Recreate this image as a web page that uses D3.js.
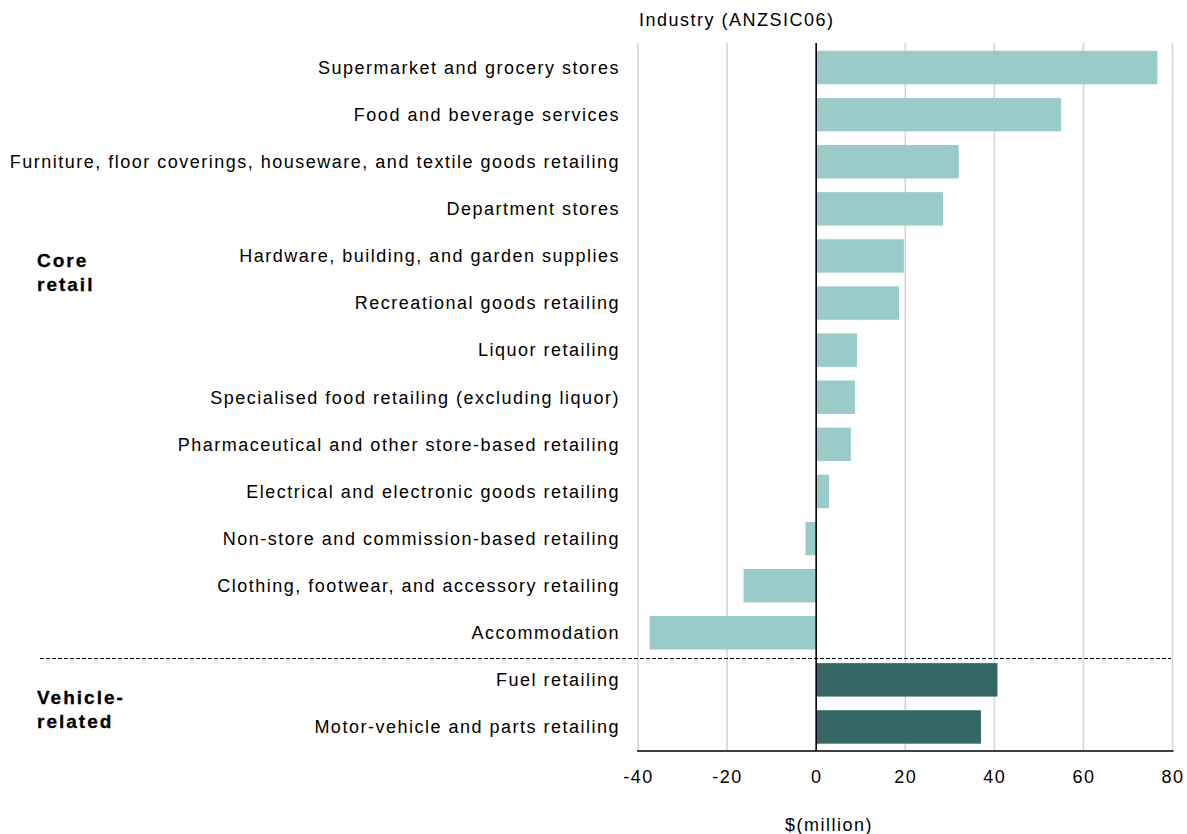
<!DOCTYPE html>
<html>
<head>
<meta charset="utf-8">
<script src="https://cdn.jsdelivr.net/npm/d3@7"></script>
<style>
  html, body { margin: 0; padding: 0; background: #ffffff; }
  svg { display: block; }
  text { font-family: "Liberation Sans", Arial, sans-serif; fill: #000; }
</style>
</head>
<body>
<svg id="chart" width="1187" height="834"></svg>
<script>
// Change in spending by industry, $(million)
const industries = [
  "Supermarket and grocery stores",
  "Food and beverage services",
  "Furniture, floor coverings, houseware, and textile goods retailing",
  "Department stores",
  "Hardware, building, and garden supplies",
  "Recreational goods retailing",
  "Liquor retailing",
  "Specialised food retailing (excluding liquor)",
  "Pharmaceutical and other store-based retailing",
  "Electrical and electronic goods retailing",
  "Non-store and commission-based retailing",
  "Clothing, footwear, and accessory retailing",
  "Accommodation",
  "Fuel retailing",
  "Motor-vehicle and parts retailing"
];
const values = [76.6, 55.0, 32.0, 28.5, 19.7, 18.6, 9.2, 8.7, 7.8, 2.9, -2.4, -16.3, -37.4, 40.7, 37.0];
const groups = ["core", "core", "core", "core", "core", "core", "core", "core", "core", "core", "core", "core", "core", "vehicle", "vehicle"];
const groupLabels = [
  { key: "core", anchor: "Hardware, building, and garden supplies", lines: ["Core", "retail"] },
  { key: "vehicle", anchor: "Fuel retailing", lines: ["Vehicle-", "related"] }
];
const xTicks = [-40, -20, 0, 20, 40, 60, 80];
const groupColors = { core: "#9acbcb", vehicle: "#356767" };

const svg = d3.select("#chart");

const x = d3.scaleLinear().domain([-40, 80]).range([638, 1172.5]);
const y = d3.scaleBand()
  .domain(industries)
  .range([44, 750.5])
  .paddingInner(0.29)
  .paddingOuter(0.145);

const plotTop = 43, plotBottom = 751;

// vertical gridlines
svg.append("g")
  .selectAll("line")
  .data(xTicks.filter(t => t !== 0))
  .join("line")
  .attr("x1", d => x(d)).attr("x2", d => x(d))
  .attr("y1", plotTop).attr("y2", plotBottom)
  .attr("stroke", "#d6d6d6")
  .attr("stroke-width", 1.6);

// bars
svg.append("g")
  .selectAll("rect")
  .data(industries)
  .join("rect")
  .attr("x", (d, i) => x(Math.min(0, values[i])))
  .attr("width", (d, i) => Math.abs(x(values[i]) - x(0)))
  .attr("y", d => y(d))
  .attr("height", y.bandwidth())
  .attr("fill", (d, i) => groupColors[groups[i]]);

// separator between the two groups
const firstVehicle = industries[groups.indexOf("vehicle")];
const sepY = Math.round(y(firstVehicle) - y.step() * y.paddingInner() / 2 + 2) + 0.5;
svg.append("line")
  .attr("x1", 40).attr("x2", 1171)
  .attr("y1", sepY).attr("y2", sepY)
  .attr("stroke", "#000")
  .attr("stroke-width", 1)
  .attr("stroke-dasharray", "4,2");

// zero line
svg.append("line")
  .attr("x1", x(0)).attr("x2", x(0))
  .attr("y1", plotTop).attr("y2", plotBottom)
  .attr("stroke", "#000")
  .attr("stroke-width", 1.6);

// x axis
const xAxis = d3.axisBottom(x)
  .tickValues(xTicks)
  .tickSize(0)
  .tickPadding(0)
  .tickFormat(d => String(d));
const gx = svg.append("g")
  .attr("transform", `translate(0,${plotBottom})`)
  .call(xAxis);
gx.select(".domain")
  .attr("d", `M${x(-40) - 1},0H${x(80) + 1}`)
  .attr("stroke", "#000")
  .attr("stroke-width", 1.6);
gx.selectAll(".tick text")
  .attr("y", 26)
  .attr("dy", "0.35em")
  .attr("font-size", 18)
  .attr("letter-spacing", "1.5px")
  .attr("font-family", "Liberation Sans, Arial, sans-serif")
  .attr("fill", "#000");

// category labels
svg.append("g")
  .selectAll("text")
  .data(industries)
  .join("text")
  .attr("x", 620)
  .attr("y", d => y(d) + y.bandwidth() / 2)
  .attr("dy", "0.35em")
  .attr("text-anchor", "end")
  .attr("font-size", 18)
  .attr("letter-spacing", "1.5px")
  .text(d => d);

// axis titles
svg.append("text")
  .attr("x", 639).attr("y", 26)
  .attr("font-size", 18)
  .attr("letter-spacing", "1.5px")
  .text("Industry (ANZSIC06)");

svg.append("text")
  .attr("x", 829).attr("y", 825)
  .attr("dy", "0.35em")
  .attr("text-anchor", "middle")
  .attr("font-size", 18)
  .attr("letter-spacing", "1.5px")
  .text("$(million)");

// group labels: baseline offset below the anchor row's centre
const labelOffset = { core: 11, vehicle: 24 };
groupLabels.forEach(g => {
  const base = y(g.anchor) + y.bandwidth() / 2 + labelOffset[g.key];
  const t = svg.append("text")
    .attr("x", 37)
    .attr("font-size", 19)
    .attr("font-weight", "bold")
    .attr("letter-spacing", "2px")
    .attr("stroke", "#000")
    .attr("stroke-width", 0.3);
  g.lines.forEach((line, k) => {
    t.append("tspan")
      .attr("x", 37)
      .attr("y", base + k * 24)
      .text(line);
  });
});
</script>
</body>
</html>
